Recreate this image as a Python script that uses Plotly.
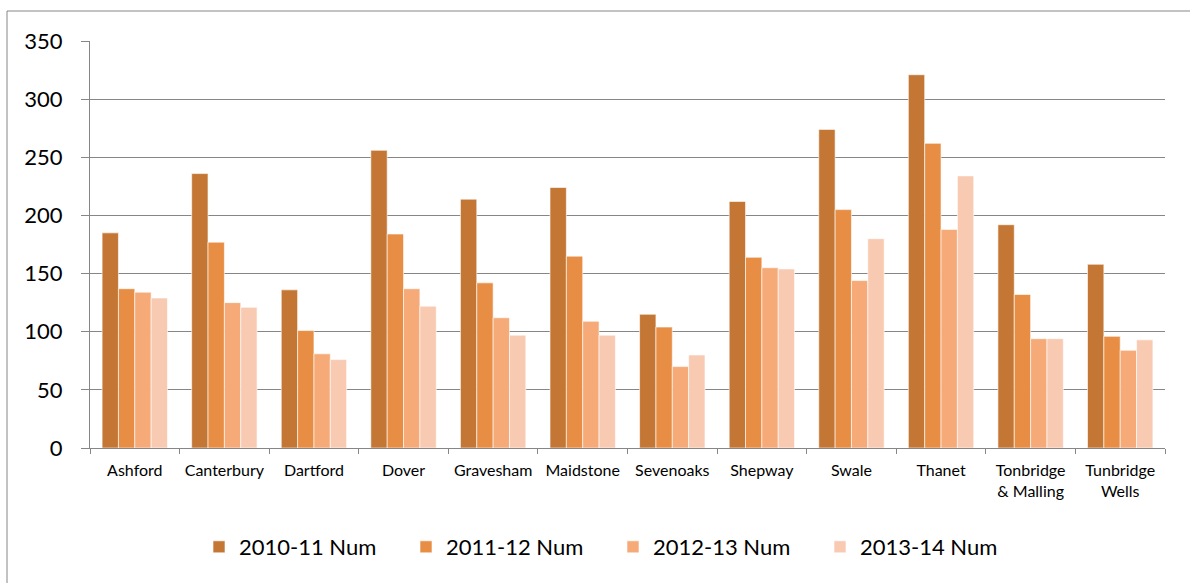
import plotly.graph_objects as go

categories = ["Ashford", "Canterbury", "Dartford", "Dover", "Gravesham", "Maidstone",
              "Sevenoaks", "Shepway", "Swale", "Thanet", "Tonbridge<br>& Malling",
              "Tunbridge<br>Wells"]
series_names = ["2010-11 Num", "2011-12 Num", "2012-13 Num", "2013-14 Num"]
v2010 = [185, 236, 136, 256, 214, 224, 115, 212, 274, 321, 192, 158]
v2011 = [137, 177, 101, 184, 142, 165, 104, 164, 205, 262, 132, 96]
v2012 = [134, 125, 81, 137, 112, 109, 70, 155, 144, 188, 94, 84]
v2013 = [129, 121, 76, 122, 97, 97, 80, 154, 180, 234, 94, 93]
y_ticks = [0, 50, 100, 150, 200, 250, 300, 350]

colors = ["#C47735", "#E88D44", "#F5AA78", "#F8CAB2"]
values = [v2010, v2011, v2012, v2013]

W, H = 1190, 583
L, R, T, B = 90, 25, 41, 135
pw, ph = W - L - R, H - T - B

legend_ids = ["legend", "legend2", "legend3", "legend4"]
symbol_left_px = [213, 420, 627, 834]

fig = go.Figure()
for name, vals, col, lid in zip(series_names, values, colors, legend_ids):
    fig.add_trace(go.Bar(
        x=categories, y=vals, name=name, legend=lid,
        marker=dict(color=col, line=dict(color="rgba(255,255,255,0.6)", width=1)),
    ))

legend_cfg = {}
for lid, sx in zip(legend_ids, symbol_left_px):
    legend_cfg[lid] = dict(orientation="h", x=(sx - 14 - L) / pw, xanchor="left",
                           y=(H - B - 547) / ph, yanchor="middle",
                           font=dict(size=22), itemwidth=30,
                           bgcolor="rgba(0,0,0,0)")

fig.update_layout(
    width=W, height=H,
    margin=dict(l=L, r=R, t=T, b=B),
    paper_bgcolor="white", plot_bgcolor="white",
    barmode="group", bargap=0.27, bargroupgap=0,
    font=dict(family="Lato, Open Sans, sans-serif", color="black"),
    showlegend=True,
    xaxis=dict(showline=True, linecolor="#868686", linewidth=1,
               ticks="outside", tickson="boundaries", ticklen=5, tickcolor="#868686",
               tickfont=dict(size=16), showgrid=False, ticklabelstandoff=8),
    yaxis=dict(range=[0, 350], tickvals=y_ticks, showline=True, linecolor="#868686",
               linewidth=1, ticks="outside", ticklen=8, tickcolor="#868686",
               gridcolor="#868686", gridwidth=1, tickfont=dict(size=22),
               zeroline=False, ticklabelstandoff=14),
    shapes=[dict(type="rect", xref="paper", yref="paper",
                 x0=(7 - L) / pw, x1=(W + 10 - L) / pw,
                 y0=(H - B - (H + 10)) / ph, y1=(H - B - 11) / ph,
                 line=dict(color="#868686", width=1), fillcolor="rgba(0,0,0,0)",
                 layer="below")],
    **legend_cfg,
)

fig.write_html("out.html")
